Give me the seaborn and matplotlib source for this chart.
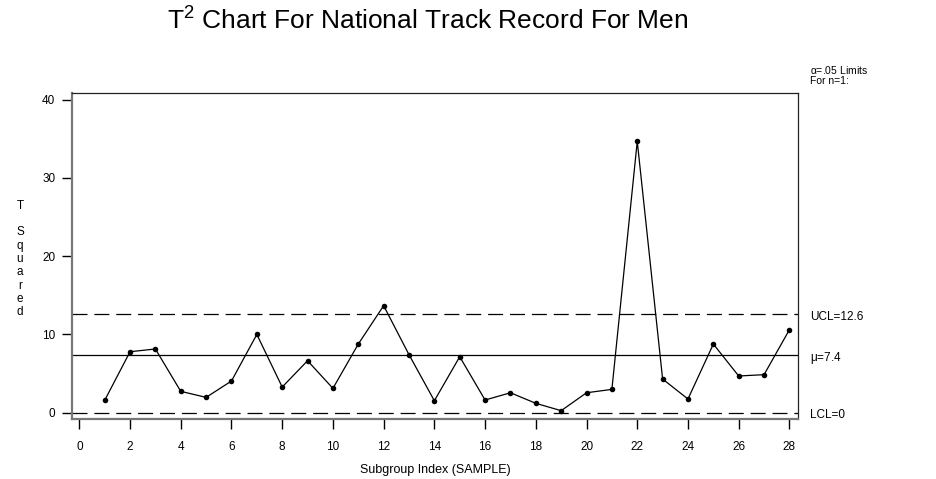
import matplotlib
matplotlib.use("Agg")
import matplotlib.pyplot as plt
import seaborn as sns
import pandas as pd

# T-squared values per subgroup
subgroup = list(range(1, 29))
t_squared = [1.58, 7.79, 8.14, 2.73, 1.96, 4.05, 10.0, 3.28, 6.64, 3.11,
             8.77, 13.67, 7.41, 1.53, 7.15, 1.62, 2.55, 1.20, 0.26, 2.55,
             2.98, 34.66, 4.30, 1.75, 8.77, 4.69, 4.86, 10.60]

# control limits
ucl = 12.6
center = 7.4
lcl = 0.0

x_ticks = list(range(0, 29, 2))
y_ticks = [0, 10, 20, 30, 40]

sns.set_theme(style="white")
plt.rcParams["font.family"] = ["Liberation Sans", "DejaVu Sans"]
plt.rcParams["mathtext.default"] = "regular"
plt.rcParams["text.color"] = "black"
plt.rcParams["axes.labelcolor"] = "black"
plt.rcParams["xtick.color"] = "black"
plt.rcParams["ytick.color"] = "black"

df = pd.DataFrame({"SAMPLE": subgroup, "T2": t_squared})

fig = plt.figure(figsize=(9.37, 4.79), dpi=100)
ax = fig.add_axes([0.0768, 0.1253, 0.7749, 0.6805])

ax.axhline(ucl, color="black", lw=0.9, dashes=(12, 5.5))
ax.axhline(center, color="black", lw=0.9)
ax.axhline(lcl, color="black", lw=0.9, dashes=(12, 5.5))

sns.lineplot(data=df, x="SAMPLE", y="T2", ax=ax, color="black", lw=0.9,
             marker="o", markersize=4, markeredgewidth=0, markerfacecolor="black")

ax.set_xlim(-0.29, 28.34)
ax.set_ylim(-0.8, 40.83)
ax.set_xticks(x_ticks)
ax.set_yticks(y_ticks)
ax.tick_params(axis="both", direction="out", length=7, width=1, color="black",
               labelsize=8.5, left=True, bottom=True)
ax.tick_params(axis="x", pad=9)
ax.tick_params(axis="y", pad=5)

for side in ["left", "bottom"]:
    ax.spines[side].set_color("#777777")
    ax.spines[side].set_linewidth(1.6)
for side in ["top", "right"]:
    ax.spines[side].set_color("#222222")
    ax.spines[side].set_linewidth(0.9)

ax.set_xlabel("Subgroup Index (SAMPLE)", fontsize=9, labelpad=8)
ax.set_ylabel("")

# vertically stacked y-axis label
fig.text(20 / 937, 1 - 259 / 479, "T\n\nS\nq\nu\na\nr\ne\nd", ha="center",
         va="center", fontsize=8.5, linespacing=1.15)

fig.text(428 / 937, 1 - 21 / 479,
         r"T$^{2}$ Chart For National Track Record For Men",
         ha="center", va="center", fontsize=19)

# limit annotations to the right of the plot
fig.text(810 / 937, 1 - 70 / 479, r"$\alpha$=.05 Limits", ha="left", va="center",
         fontsize=7.5)
fig.text(810 / 937, 1 - 81 / 479, "For n=1:", ha="left", va="center", fontsize=7.5)
fig.text(810 / 937, 1 - 317 / 479, f"UCL={ucl:.1f}", ha="left", va="center", fontsize=8.5)
fig.text(810 / 937, 1 - 358 / 479, r"$\mu$" + f"={center:.1f}", ha="left",
         va="center", fontsize=8.5)
fig.text(810 / 937, 1 - 415 / 479, f"LCL={lcl:.0f}", ha="left", va="center", fontsize=8.5)

fig.savefig("out.png", dpi=100)
